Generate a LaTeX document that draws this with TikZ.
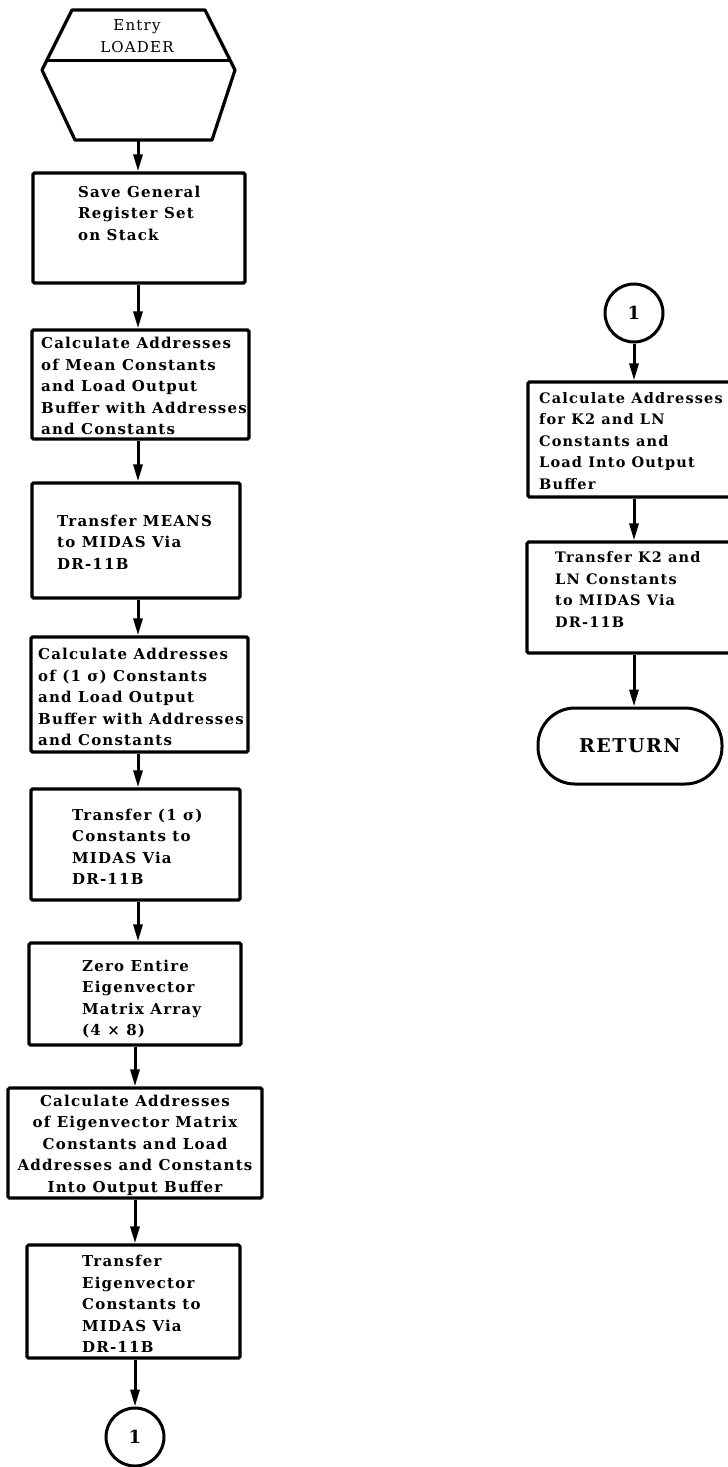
\documentclass[tikz,border=0pt]{standalone}
\usepackage{fontspec}
\setmainfont{DejaVu Serif}
\newfontfamily\flowfont[LetterSpace=8]{DejaVu Serif}
\usetikzlibrary{arrows.meta}
\begin{document}
\begin{tikzpicture}[x=1pt,y=-1pt,
  box/.style={draw, line width=3.2pt, rounded corners=1.5pt, inner sep=0pt},
  txt/.style={font=\flowfont\bfseries\fontsize{15}{21.5}\selectfont, align=left, inner sep=0pt, anchor=west},
  rtxt/.style={txt, font=\flowfont\bfseries\fontsize{14.5}{21.5}\selectfont},
  ctxt/.style={font=\flowfont\bfseries\fontsize{15}{21.5}\selectfont, align=center, inner sep=0pt},
  conn/.style={draw, circle, line width=3pt, minimum size=58pt, inner sep=0pt,
    font=\flowfont\bfseries\fontsize{18}{20}\selectfont},
  term/.style={draw, line width=3pt, rounded corners=37pt, inner sep=0pt,
    font=\flowfont\bfseries\fontsize{19}{22}\selectfont},
  flow/.style={line width=3pt, -{Triangle[length=17pt,width=9pt]}}]
\useasboundingbox (0,0) rectangle (728,1467);
\clip (0,0) rectangle (728,1467);

% entry hexagon with its label band
\draw[line width=3.2pt, line join=round] (72,10) -- (205,10) -- (235,70) -- (212,140)
  -- (75,140) -- (42,70) -- cycle;
\draw[line width=3pt] (47,60) -- (230,60);
\node[font=\flowfont\fontsize{15}{21.5}\selectfont, align=center, inner sep=0pt] (entry) at (137,36) {Entry\\LOADER};
\coordinate (hexbot) at (138,140);

% left column
\node[box, minimum width=212pt, minimum height=110pt] (b1) at (139,228) {};
\node[txt] (t1) at (78,213) {Save General\\Register Set\\on Stack};

\node[box, minimum width=217pt, minimum height=109pt] (b2) at (140.5,384.5) {};
\node[txt] (t2) at (41,386) {Calculate Addresses\\of Mean Constants\\and Load Output\\Buffer with Addresses\\and Constants};

\node[box, minimum width=208pt, minimum height=115pt] (b3) at (136,540.5) {};
\node[txt] (t3) at (57,542) {Transfer MEANS\\to MIDAS Via\\DR-11B};

\node[box, minimum width=217pt, minimum height=115pt] (b4) at (139.5,694.5) {};
\node[txt] (t4) at (38,697) {Calculate Addresses\\of (1 σ) Constants\\and Load Output\\Buffer with Addresses\\and Constants};

\node[box, minimum width=209pt, minimum height=111pt] (b5) at (135.5,844.5) {};
\node[txt] (t5) at (72,847) {Transfer (1 σ)\\Constants to\\MIDAS Via\\DR-11B};

\node[box, minimum width=212pt, minimum height=102pt] (b6) at (135,994) {};
\node[txt] (t6) at (82,999) {Zero Entire\\Eigenvector\\Matrix Array\\(4 × 8)};

\node[box, minimum width=254pt, minimum height=110pt] (b7) at (135,1143) {};
\node[ctxt] (t7) at (135,1145) {Calculate Addresses\\of Eigenvector Matrix\\Constants and Load\\Addresses and Constants\\Into Output Buffer};

\node[box, minimum width=213pt, minimum height=113pt] (b8) at (133.5,1301.5) {};
\node[txt] (t8) at (82,1304) {Transfer\\Eigenvector\\Constants to\\MIDAS Via\\DR-11B};

\node[conn] (c1) at (135,1437) {1};

% right column
\node[conn] (c2) at (634,313) {1};

\node[box, minimum width=209pt, minimum height=115pt] (r1) at (632.5,439.5) {};
\node[rtxt] (u1) at (539,441) {Calculate Addresses\\for K2 and LN\\Constants and\\Load Into Output\\Buffer};

\node[box, minimum width=208pt, minimum height=111pt] (r2) at (631,597.5) {};
\node[rtxt] (u2) at (555,589.5) {Transfer K2 and\\LN Constants\\to MIDAS Via\\DR-11B};

\node[term, minimum width=184pt, minimum height=76pt] (ret) at (630,746) {RETURN};

% connectors
\draw[flow] (hexbot) -- (hexbot |- b1.north);
\draw[flow] (b1.south -| hexbot) -- (hexbot |- b2.north);
\draw[flow] (b2.south -| hexbot) -- (hexbot |- b3.north);
\draw[flow] (b3.south -| hexbot) -- (hexbot |- b4.north);
\draw[flow] (b4.south -| hexbot) -- (hexbot |- b5.north);
\draw[flow] (b5.south -| hexbot) -- (hexbot |- b6.north);
\draw[flow] (b6.south -| b7) -- (b7.north);
\draw[flow] (b7.south) -- (b7.south |- b8.north);
\draw[flow] (b8.south -| c1) -- (c1.north);

\draw[flow] (c2.south) -- (c2.south |- r1.north);
\draw[flow] (r1.south -| c2) -- (c2 |- r2.north);
\draw[flow] (r2.south -| c2) -- (c2 |- ret.north);
\end{tikzpicture}
\end{document}
